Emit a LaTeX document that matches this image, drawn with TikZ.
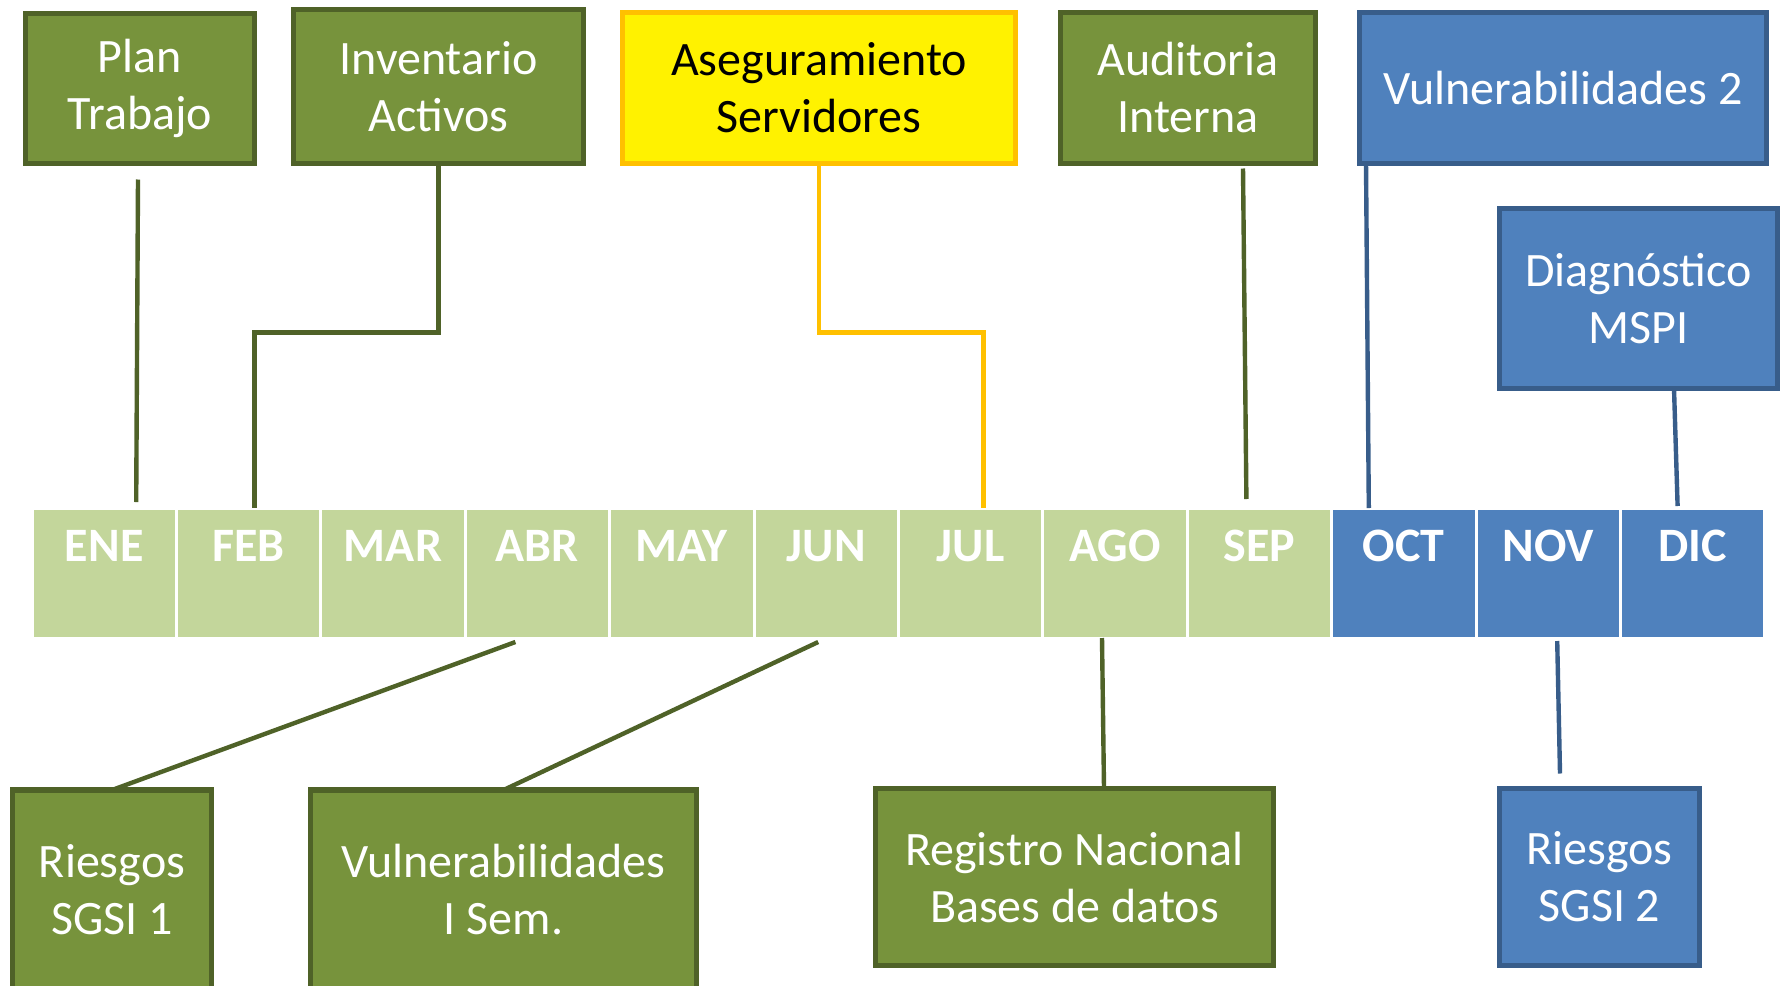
\documentclass[tikz,border=0pt]{standalone}
\usepackage{fontspec}
\setmainfont{Carlito}
\usepackage{tikz}
\usetikzlibrary{arrows.meta,positioning,calc}
\definecolor{olivo}{HTML}{77933C}
\definecolor{olivoborde}{HTML}{4F6228}
\definecolor{olivoclaro}{HTML}{C3D69B}
\definecolor{azul}{HTML}{4F81BD}
\definecolor{azulborde}{HTML}{385D8A}
\definecolor{amarilloborde}{HTML}{FFC000}

\begin{document}
\begin{tikzpicture}[x=0.5pt,y=-0.5pt]
      \tikzstyle{mes}=[rectangle,draw=white,line width=1.5pt,minimum width=72.2pt,inner sep=0pt,outer sep=0pt,text height=26.5pt,text depth=38.5pt,text=white,font=\fontsize{24}{28.5}\selectfont\bfseries,anchor=north west]
      \tikzstyle{caja}=[rectangle,line width=2.6pt,align=center,text=white,font=\fontsize{24}{28.5}\selectfont,outer sep=0pt]
      \tikzstyle{verde}=[caja,fill=olivo,draw=olivoborde]
      \tikzstyle{azulc}=[caja,fill=azul,draw=azulborde]
      \tikzstyle{linea}=[line width=2.2pt]
      \useasboundingbox (0,0) rectangle (1781,985);
      % meses
      \foreach \m/\c [count=\i] in {ENE/olivoclaro,FEB/olivoclaro,MAR/olivoclaro,ABR/olivoclaro,MAY/olivoclaro,JUN/olivoclaro,JUL/olivoclaro,AGO/olivoclaro,SEP/olivoclaro,OCT/azul,NOV/azul,DIC/azul}
        \node[mes,fill=\c] (\m) at ({32+(\i-1)*144.4},508) {\m};
      % actividades arriba
      \node[verde,minimum width=114.5pt,minimum height=75pt] (plan) at (140,88.5) {Plan\\Trabajo};
      \node[verde,minimum width=145pt,minimum height=77pt] (inv) at (438.5,86.5) {Inventario\\Activos};
      \node[caja,fill=yellow,draw=amarilloborde,text=black,minimum width=196.5pt,minimum height=75.5pt] (aseg) at (819,88) {Aseguramiento\\Servidores};
      \node[verde,minimum width=127.5pt,minimum height=75.5pt] (aud) at (1188,88) {Auditoria\\Interna};
      \node[azulc,minimum width=203.5pt,minimum height=75.5pt] (vul2) at (1563,88) {Vulnerabilidades 2};
      \node[azulc,minimum width=139pt,minimum height=90pt] (diag) at (1638.5,298.5) {Diagnóstico\\MSPI};
      % actividades abajo
      \node[verde,minimum width=99.5pt,minimum height=100pt] (ries1) at (112,890) {Riesgos\\SGSI 1};
      \node[verde,minimum width=193pt,minimum height=100pt] (vulI) at (503.5,890) {Vulnerabilidades\\I Sem.};
      \node[verde,minimum width=199pt,minimum height=88.5pt] (reg) at (1074.5,877) {Registro Nacional\\Bases de datos};
      \node[azulc,minimum width=100pt,minimum height=88.5pt] (ries2) at (1599.5,877) {Riesgos\\SGSI 2};
      % conectores
      \draw[linea,olivoborde] ($(plan.south)+(-2,16)$) -- ($(ENE.north)+(32,-6)$);
      \draw[linea,olivoborde] (inv.south) -- ++(0,169) -| ($(FEB.north)+(6,0)$);
      \draw[linea,amarilloborde] (aseg.south) -- ++(0,169) -| ($(JUL.north)+(13,0)$);
      \draw[linea,olivoborde] ($(aud.south)+(55,5)$) -- ($(SEP.north)+(-13,-9)$);
      \draw[linea,azulborde] ($(vul2.south)+(-197,0)$) -- ($(OCT.north)+(-35,0)$);
      \draw[linea,azulborde] ($(diag.south)+(35.5,0)$) -- ($(DIC.north)+(-15,-2)$);
      \draw[linea,olivoborde] ($(ABR.south)+(-22,4)$) -- (ries1.north);
      \draw[linea,olivoborde] ($(JUN.south)+(-8,4)$) -- (vulI.north);
      \draw[linea,olivoborde] ($(AGO.south)+(-13,0)$) -- ($(reg.north)+(29.5,0)$);
      \draw[linea,azulborde] ($(NOV.south)+(9,3)$) -- ($(ries2.north)+(-39.5,-15)$);
    \end{tikzpicture}
\end{document}
